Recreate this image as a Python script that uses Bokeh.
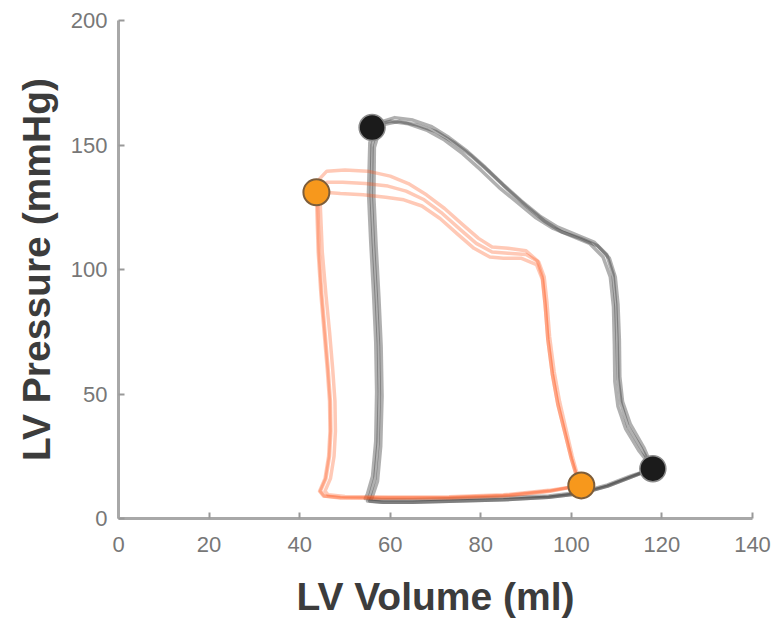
from bokeh.plotting import figure
from bokeh.models import FixedTicker
from bokeh.embed import file_html
from bokeh.resources import INLINE

# ---- data ----
# black loops (baseline), three cycles: volume (ml), pressure (mmHg)
black_v1 = [118, 115, 112, 110.3, 109.6, 109.5, 109.3, 108.6, 107, 104, 100, 96, 92, 88, 84, 80, 76, 72, 68, 64, 60, 57.5,
            56, 55.8, 56.3, 56.9, 57.4, 57.6, 57.3, 56.6, 55.5, 55, 58, 65, 75, 85, 95, 102, 108, 113, 118]
black_p1 = [20, 27, 36, 45, 55, 70, 85, 97, 105, 110.5, 113.5, 116.5, 121, 127, 133, 140, 146.5, 152, 156, 158.5, 159.5, 158.5,
            150, 130, 110, 90, 70, 50, 30, 16, 9, 7, 6.5, 6.5, 7, 7.5, 8.5, 10, 13, 16.5, 20]
black_v2 = [118, 115.5, 112.5, 111, 110.3, 110.1, 109.8, 109.2, 107.8, 105, 101, 97, 93, 89, 85, 81, 77, 73, 69, 65, 61, 57.5,
            55.5, 55.2, 55.7, 56.3, 56.8, 57, 56.8, 56.1, 55, 54.5, 58, 65, 75, 85, 95, 102, 108, 113, 118]
black_p2 = [20, 28, 37, 46, 56, 71, 86, 98, 106, 111, 114, 117, 121.5, 127.5, 134, 141, 147.5, 153, 157.5, 160, 161, 159,
            151, 131, 111, 91, 71, 51, 31, 17, 10, 8, 7.5, 7.5, 8, 8.5, 9, 10.5, 13.5, 17, 20]
black_v3 = [118, 116, 113, 111.3, 110.7, 110.6, 110.3, 109.7, 108.4, 105.8, 102, 98, 94, 90, 86, 82, 78, 74, 70, 66, 62, 58,
            56.5, 56.4, 56.9, 57.5, 58, 58.2, 57.9, 57.2, 56, 55.5, 58.5, 65, 75, 85, 95, 102, 108, 113, 118]
black_p3 = [20, 28.5, 38, 47, 57, 72, 86, 97, 104.5, 109.5, 112.5, 115, 119.5, 125.5, 132, 139, 145.5, 151, 155.5, 158, 159.5, 158,
            149, 129, 109, 89, 69, 49, 29, 15, 8.5, 7, 6.5, 6.5, 7, 7.5, 8.5, 10, 13, 16.5, 20]

# orange loops (second condition), three cycles
orange_v1 = [102.2, 101, 100, 98.5, 97, 95.8, 94.8, 94.2, 93.6, 92.5, 90, 86, 82.5, 79.5, 76, 72, 68, 64, 60, 55, 50, 46, 44.2,
             44, 44.3, 44.9, 45.6, 46.3, 46.8, 46.9, 46.6, 45.8, 44.6, 45.5, 49, 60, 73, 85, 95, 102.2]
orange_p1 = [13.3, 18, 24, 35, 46, 58, 72, 86, 97, 103.5, 107.5, 108.5, 109, 112.5, 118, 124.5, 130, 134.5, 137.5, 139.5, 140, 139.5, 136,
             125, 107, 90, 75, 60, 47, 35, 25, 16, 11, 9, 8.4, 8.3, 8.4, 9.2, 11, 13.3]
orange_v2 = [102.2, 101, 100, 98.5, 97, 95.8, 94.8, 94.2, 93.6, 92.3, 89, 85, 82, 78.5, 75, 71, 67, 63, 59, 54, 49, 45.5, 43.8,
             43.8, 44.1, 44.7, 45.4, 46.1, 46.6, 46.7, 46.4, 45.6, 44.4, 45.3, 49, 60, 73, 85, 95, 102.2]
orange_p2 = [13.3, 18, 24, 35, 46, 58, 72, 86, 96, 102, 104.5, 104.5, 105, 108.5, 114, 120.5, 125.5, 128, 129, 130, 130.5, 131, 131,
             124, 107, 90, 75, 60, 47, 35, 25, 16, 11, 9, 8.2, 8.1, 8.2, 9, 10.8, 13.3]
orange_v3 = [102.2, 101.2, 100.2, 98.8, 97.4, 96.2, 95.2, 94.6, 94, 92.8, 90, 86, 82.5, 79, 75.5, 71.5, 67.5, 63.5, 59.5, 54.5, 49.5, 46, 44.5,
             44.6, 45, 45.8, 46.6, 47.3, 47.8, 47.9, 47.6, 46.8, 45.6, 46.3, 50, 60, 73, 85, 95, 102.2]
orange_p3 = [13.3, 18.5, 25, 36, 47, 59, 73, 87, 97, 103, 106, 106.5, 107, 110.5, 116, 122.5, 128, 131.5, 133.5, 134.5, 135, 135, 133,
             124, 107, 90, 75, 60, 47, 35, 25, 16, 11, 9.5, 8.8, 8.6, 8.7, 9.5, 11.3, 13.3]

# end-systolic / end-diastolic points
black_pts_v = [56, 118]
black_pts_p = [157, 20]
orange_pts_v = [43.7, 102.2]
orange_pts_p = [131, 13.3]

x_ticks = [0, 20, 40, 60, 80, 100, 120, 140]
y_ticks = [0, 50, 100, 150, 200]

p = figure(width=777, height=620, output_backend="svg", toolbar_location=None,
           x_range=(0, 140), y_range=(0, 200),
           min_border_left=118, min_border_right=25, min_border_top=20, min_border_bottom=97)

p.outline_line_color = None
p.background_fill_color = "white"
p.border_fill_color = "white"
p.xgrid.visible = False
p.ygrid.visible = False

for ax in (p.xaxis, p.yaxis):
    ax.axis_line_color = "#a8a8a8"
    ax.axis_line_width = 3
    ax.major_tick_line_color = "#999999"
    ax.major_tick_line_width = 2
    ax.major_tick_in = 6
    ax.major_tick_out = 0
    ax.minor_tick_line_color = None
    ax.major_label_text_font = "Liberation Sans"
    ax.major_label_text_font_size = "22px"
    ax.major_label_text_color = "#777777"
    ax.axis_label_text_font = "Liberation Sans"
    ax.axis_label_text_font_style = "bold"
    ax.axis_label_text_font_size = "39px"
    ax.axis_label_text_color = "#3c3c3c"

p.xaxis.ticker = FixedTicker(ticks=x_ticks)
p.yaxis.ticker = FixedTicker(ticks=y_ticks)
p.xaxis.axis_label = "LV Volume (ml)"
p.yaxis.axis_label = "LV Pressure (mmHg)"
p.xaxis.major_label_standoff = 18
p.yaxis.major_label_standoff = 11
p.xaxis.axis_label_standoff = 20
p.yaxis.axis_label_standoff = 10

for vv, pp in ((black_v1, black_p1), (black_v2, black_p2), (black_v3, black_p3)):
    p.line(vv, pp, line_color="#303030", line_alpha=0.38, line_width=3.5, line_join="round", line_cap="round")

for vv, pp in ((orange_v1, orange_p1), (orange_v2, orange_p2), (orange_v3, orange_p3)):
    p.line(vv, pp, line_color="#ff5a22", line_alpha=0.33, line_width=3.5, line_join="round", line_cap="round")

p.scatter(black_pts_v, black_pts_p, size=26, fill_color="#1b1b1b", line_color="#8c8c8c", line_width=1.5)
p.scatter(orange_pts_v, orange_pts_p, size=26, fill_color="#f7981c", line_color="#7d5d3a", line_width=2)

open("out.html", "w").write(file_html(p, INLINE))
